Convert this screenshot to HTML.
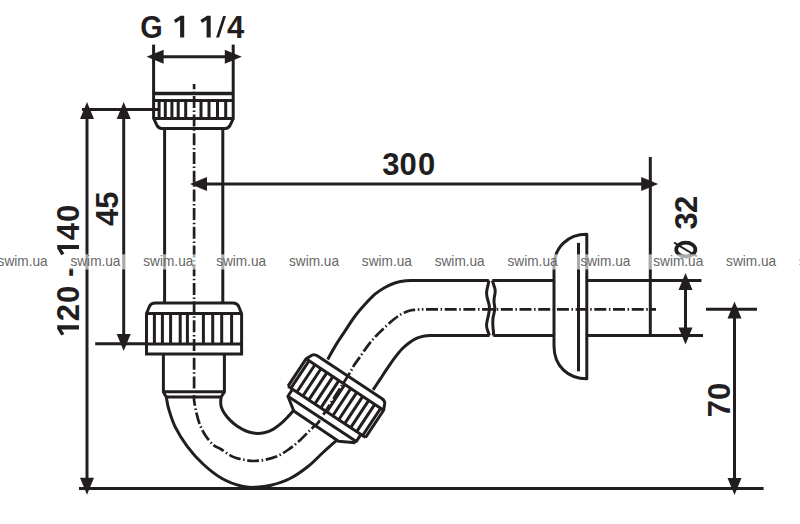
<!DOCTYPE html>
<html><head><meta charset="utf-8"><style>
html,body{margin:0;padding:0;background:#fff;width:800px;height:524px;overflow:hidden}
svg{display:block}
</style></head><body>
<svg width="800" height="524" viewBox="0 0 800 524">
<rect width="800" height="524" fill="#fff"/>
<g>
<g fill="none" stroke="#221e1f" stroke-width="3.0" stroke-linecap="butt" stroke-linejoin="round">
<!-- G dimension -->
<line x1="153.6" y1="44.6" x2="153.6" y2="119" />
<line x1="233.2" y1="44.6" x2="233.2" y2="119" />
<line x1="160" y1="56.8" x2="228" y2="56.8" />
<!-- upper nut -->
<line x1="153.6" y1="93.5" x2="233.2" y2="93.5" stroke-width="3.5"/>
<line x1="153.6" y1="100.5" x2="233.2" y2="100.5"/>
<line x1="153.6" y1="118.4" x2="233.2" y2="118.4"/>
<path d="M159.1,100.5V118.4M165.3,100.5V118.4M171.9,100.5V118.4M178.2,100.5V118.4M185.7,100.5V118.4M201,100.5V118.4M209,100.5V118.4M217.5,100.5V118.4M225.7,100.5V118.4"/>
<path d="M153.6,118.4 L157.2,125.8 Q158.6,128.4 161.5,128.4 H225.5 Q228.4,128.4 229.8,125.8 L233.4,118.4"/>
<!-- upper pipe -->
<line x1="164.6" y1="128.4" x2="164.6" y2="302.9"/>
<line x1="222.8" y1="128.4" x2="222.8" y2="302.9"/>
<!-- middle nut -->
<path d="M146.5,344 V313.6 L149.6,306 Q151.1,302.9 155.5,302.9 L232.6,302.9 Q237,302.9 238.5,306 L241.6,313.6 V344"/>
<line x1="146.5" y1="313.4" x2="241.6" y2="313.4"/>
<line x1="146.5" y1="344" x2="241.6" y2="344"/>
<path d="M146.5,344 V353.9 H241.6 V344" stroke-linejoin="miter"/>
<path d="M154.4,313.4V344M162.4,313.4V344M170.6,313.4V344M180.2,313.4V344M187.4,313.4V344M203.4,313.4V344M212.7,313.4V344M221.7,313.4V344M231.6,313.4V344"/>
<!-- lower pipe segment -->
<path d="M163.4,353.9 V392 L166.35,397.2 M224.4,353.9 V392 L221.25,396.75"/>
<line x1="163.4" y1="391.7" x2="224.4" y2="391.7"/>
<line x1="166.35" y1="397" x2="221.25" y2="397"/>
<!-- U bend -->
<path d="M166.35,397.20 C166.76,399.22 167.31,404.30 168.80,409.30 C170.29,414.30 172.20,420.98 175.30,427.20 C178.40,433.42 182.78,440.47 187.40,446.60 C192.02,452.73 197.23,458.68 203.00,464.00 C208.77,469.32 215.50,474.78 222.00,478.50 C228.50,482.22 236.33,484.83 242.00,486.30 C247.67,487.77 251.17,487.47 256.00,487.30 C260.83,487.13 265.33,486.77 271.00,485.30 C276.67,483.83 283.83,481.63 290.00,478.50 C296.17,475.37 302.50,470.83 308.00,466.50 C313.50,462.17 318.23,456.87 323.00,452.50 C327.77,448.13 334.33,442.33 336.60,440.30"/>
<path d="M221.25,396.75 C221.16,397.50 220.70,399.56 220.70,401.25 C220.70,402.94 220.60,404.84 221.25,406.90 C221.90,408.96 223.10,411.35 224.60,413.60 C226.10,415.85 228.18,418.33 230.25,420.40 C232.32,422.47 234.38,424.23 237.00,426.00 C239.62,427.77 243.00,429.78 246.00,431.00 C249.00,432.22 252.00,433.01 255.00,433.30 C258.00,433.59 261.00,433.40 264.00,432.75 C267.00,432.10 270.00,431.09 273.00,429.40 C276.00,427.71 279.38,424.85 282.00,422.60 C284.62,420.35 286.88,417.87 288.75,415.90 C290.62,413.93 292.50,411.65 293.25,410.80"/>
<!-- pipe angled to horizontal -->
<path d="M327.70,359.40 C329.00,357.10 332.70,350.20 335.50,345.60 C338.30,341.00 341.35,336.57 344.50,331.80 C347.65,327.03 351.02,321.53 354.40,317.00 C357.78,312.47 361.37,308.40 364.80,304.60 C368.23,300.80 371.58,297.10 375.00,294.20 C378.42,291.30 381.87,289.10 385.30,287.20 C388.73,285.30 392.17,283.88 395.60,282.80 C399.03,281.72 402.50,281.08 405.90,280.70 C409.30,280.32 412.65,280.53 416.00,280.50 C419.35,280.47 424.33,280.50 426.00,280.50 H488.8"/>
<path d="M373.10,389.80 C374.23,388.10 377.53,383.17 379.90,379.60 C382.27,376.03 384.83,372.02 387.30,368.40 C389.77,364.78 392.22,361.17 394.70,357.90 C397.18,354.63 399.72,351.37 402.20,348.80 C404.68,346.23 407.13,344.27 409.60,342.50 C412.07,340.73 414.52,339.30 417.00,338.20 C419.48,337.10 422.00,336.33 424.50,335.90 C427.00,335.47 429.42,335.65 432.00,335.60 C434.58,335.55 438.67,335.60 440.00,335.60 H489.5"/>
<path d="M492.3,280.5 H554 M586.8,280.5 H701.5"/>
<path d="M493.3,335.6 H554 M586.8,335.6 H703"/>
<!-- break -->
<path d="M488.80,280.60 C488.70,281.23 488.48,283.00 488.20,284.40 C487.92,285.80 487.37,287.58 487.10,289.00 C486.83,290.42 486.60,291.50 486.60,292.90 C486.60,294.30 486.80,295.88 487.10,297.40 C487.40,298.92 488.03,300.57 488.40,302.00 C488.77,303.43 489.15,304.75 489.30,306.00 C489.45,307.25 489.37,308.37 489.30,309.50 C489.23,310.63 489.15,311.38 488.90,312.80 C488.65,314.22 488.17,316.27 487.80,318.00 C487.43,319.73 486.88,321.68 486.70,323.20 C486.52,324.72 486.52,325.80 486.70,327.10 C486.88,328.40 487.33,329.60 487.80,331.00 C488.27,332.40 489.22,334.75 489.50,335.50"/>
<path d="M492.30,280.60 C492.58,281.45 493.53,284.22 494.00,285.70 C494.47,287.18 494.92,288.30 495.10,289.50 C495.28,290.70 495.23,291.58 495.10,292.90 C494.97,294.22 494.48,295.88 494.30,297.40 C494.12,298.92 493.95,300.57 494.00,302.00 C494.05,303.43 494.47,304.83 494.60,306.00 C494.73,307.17 494.90,307.77 494.80,309.00 C494.70,310.23 494.30,311.90 494.00,313.40 C493.70,314.90 493.20,316.37 493.00,318.00 C492.80,319.63 492.80,321.58 492.80,323.20 C492.80,324.82 492.88,326.18 493.00,327.70 C493.12,329.22 493.45,331.00 493.50,332.30 C493.55,333.60 493.33,334.97 493.30,335.50"/>
<!-- rosette -->
<path d="M586.8,234.3 C568,234.3 554,247 554,267 V346 C554,366 568,378.8 586.8,378.8 Z"/>
<line x1="578.5" y1="242.9" x2="578.5" y2="371.3"/>
<!-- 300 dim -->
<line x1="650.3" y1="157" x2="650.3" y2="335.6"/>
<line x1="205" y1="184" x2="642" y2="184"/>
<!-- 120-140 and 45 dims -->
<line x1="82" y1="109.4" x2="160" y2="109.4"/>
<line x1="87" y1="115" x2="87" y2="480"/>
<line x1="123.7" y1="115" x2="123.7" y2="336"/>
<line x1="95.2" y1="343.8" x2="146.5" y2="343.8"/>
<line x1="79" y1="488.4" x2="763.6" y2="488.4"/>
<!-- Ø32 dim -->
<line x1="685.5" y1="285" x2="685.5" y2="330"/>
<!-- 70 dim -->
<line x1="706" y1="309.2" x2="757" y2="309.2"/>
<line x1="734.5" y1="315" x2="734.5" y2="480"/>
</g>
<g fill="none" stroke="#221e1f" stroke-width="3.0" stroke-linejoin="round">
<g transform="translate(349.7,377.2) rotate(33.5)">
<path d="M-46.5,8.8 C-45.5,3 -44.0,0 -40.0,0 L40.0,0 C44.0,0 45.5,3 46.5,8.8 V41.5 H41 V50 L41,51.5 L26,59.5 L-28,59 L-41,50 V41.5 H-46.5 Z" fill="#fff" stroke="none"/>
<path d="M-46.5,41.5 V8.8 L-43.7,2.6 Q-42.3,0 -38.5,0 L38.5,0 Q42.3,0 43.7,2.6 L46.5,8.8 V41.5"/>
<line x1="-46.5" y1="8.8" x2="46.5" y2="8.8"/>
<line x1="-46.5" y1="41.5" x2="46.5" y2="41.5"/>
<path d="M-41,41.5 V50 H41 V41.5"/>
<path d="M-41,50 L-28,59 L26,59.5 L41,51.5"/>
<path d="M-43.0,8.8V41.5M-35.83,8.8V41.5M-28.67,8.8V41.5M-21.5,8.8V41.5M-14.33,8.8V41.5M-7.17,8.8V41.5M0.0,8.8V41.5M7.17,8.8V41.5M14.33,8.8V41.5M21.5,8.8V41.5M28.67,8.8V41.5M35.83,8.8V41.5M43.0,8.8V41.5"/>
</g>
</g>
<!-- center lines -->
<g fill="none" stroke="#221e1f" stroke-width="2.7" stroke-dasharray="12 2.6 1.5 2.6">
<path d="M194.1,84 V397" stroke-dashoffset="6.8"/>
<path d="M194.1,397 C194.12,397.70 193.82,398.60 194.20,401.20 C194.57,403.80 195.45,408.82 196.35,412.60 C197.25,416.38 198.11,420.12 199.60,423.90 C201.09,427.68 203.00,431.78 205.30,435.30 C207.60,438.82 210.77,442.68 213.40,445.00 C216.03,447.32 217.92,447.32 221.10,449.25 C224.28,451.18 228.70,454.84 232.50,456.60 C236.30,458.36 240.38,459.07 243.90,459.80 C247.42,460.53 250.08,461.00 253.60,461.00 C257.12,461.00 261.20,460.53 265.00,459.80 C268.80,459.07 272.61,458.23 276.40,456.60 C280.19,454.97 283.97,452.58 287.75,450.00 C291.53,447.42 295.31,444.48 299.10,441.10 C302.89,437.73 307.52,432.60 310.50,429.75 C313.48,426.90 315.42,425.62 317.00,424.00 C318.58,422.38 319.50,420.67 320.00,420.00 C324.80,412.42 343.10,383.67 348.80,374.50 C354.50,365.33 352.28,368.00 354.20,365.00 C356.12,362.00 358.27,359.40 360.30,356.50 C362.33,353.60 364.37,350.38 366.40,347.60 C368.43,344.82 370.47,342.17 372.50,339.80 C374.53,337.43 376.30,335.70 378.60,333.40 C380.90,331.10 383.75,328.35 386.30,326.00 C388.85,323.65 391.37,321.30 393.90,319.30 C396.43,317.30 398.95,315.42 401.50,314.00 C404.05,312.58 406.95,311.50 409.20,310.80 C411.45,310.10 413.03,310.03 415.00,309.80 C416.97,309.57 420.00,309.47 421.00,309.40" stroke-dashoffset="3"/>
<path d="M421,309.4 H656" stroke-dashoffset="13.70"/>
</g>
<!-- arrowheads -->
<g fill="#221e1f">
<polygon points="146.60,56.80 163.60,49.80 163.60,63.80"/>
<polygon points="241.80,56.80 224.80,49.80 224.80,63.80"/>
<polygon points="190.00,184.00 207.00,177.00 207.00,191.00"/>
<polygon points="658.20,184.00 641.20,177.00 641.20,191.00"/>
<polygon points="87.00,102.00 80.00,119.00 94.00,119.00"/>
<polygon points="123.70,102.00 116.70,119.00 130.70,119.00"/>
<polygon points="123.70,350.90 116.70,333.90 130.70,333.90"/>
<polygon points="87.00,494.70 80.00,477.70 94.00,477.70"/>
<polygon points="685.50,272.90 678.50,289.90 692.50,289.90"/>
<polygon points="685.50,344.40 678.50,327.40 692.50,327.40"/>
<polygon points="734.50,301.60 727.50,318.60 741.50,318.60"/>
<polygon points="734.50,494.90 727.50,477.90 741.50,477.90"/>
</g>
<!-- text -->
<g fill="#221e1f" font-family="Liberation Sans, sans-serif" font-weight="bold" font-size="31" text-anchor="middle">
<text x="151.5" y="38.3" transform="translate(151.5,0) scale(0.93,1) translate(-151.5,0)">G</text>
<path transform="translate(184.2,37.6)" d="M0,-21.8 V0 H-4.1 V-17.6 L-8.6,-14.6 L-10.3,-17.6 L-3.6,-21.8 Z"/>
<path transform="translate(210.7,37.6)" d="M0,-21.8 V0 H-4.1 V-17.6 L-8.6,-14.6 L-10.3,-17.6 L-3.6,-21.8 Z"/>
<polygon points="216.1,37.6 219.1,37.6 226,16 223.1,16"/>
<text x="235.6" y="38.3">4</text>
<text x="390.75" y="175">3</text>
<text x="408" y="175">0</text>
<text x="426.5" y="175">0</text>
<text transform="translate(118.3,200.1) rotate(-90)">5</text>
<text transform="translate(118.3,217.4) rotate(-90)">4</text>
<path transform="translate(79,325.3) rotate(-90)" d="M0,-21.8 V0 H-4.1 V-17.6 L-8.6,-14.6 L-10.3,-17.6 L-3.6,-21.8 Z"/>
<text transform="translate(79,312.65) rotate(-90)">2</text>
<text transform="translate(79,294.4) rotate(-90)">0</text>
<text transform="translate(79,271.8) rotate(-90)">-</text>
<path transform="translate(79,245) rotate(-90)" d="M0,-21.8 V0 H-4.1 V-17.6 L-8.6,-14.6 L-10.3,-17.6 L-3.6,-21.8 Z"/>
<text transform="translate(79,231.7) rotate(-90)">4</text>
<text transform="translate(79,213.35) rotate(-90)">0</text>
<text transform="translate(697,220.85) rotate(-90)">3</text>
<text transform="translate(697,204.45) rotate(-90)">2</text>
<text transform="translate(729.6,408.6) rotate(-90)">7</text>
<text transform="translate(729.6,391.45) rotate(-90)">0</text>
</g>
<!-- Ø symbol -->
<g fill="none" stroke="#221e1f">
<ellipse cx="685.8" cy="249.6" rx="9.6" ry="7.0" stroke-width="3.7"/>
<line x1="674" y1="242.5" x2="697" y2="256.5" stroke-width="2"/>
</g>
<!-- watermarks -->
<g font-family="Liberation Sans, sans-serif" font-size="15" fill="#666">
<rect x="-6.90" y="254.3" width="59.5" height="15.2" fill="#fff" fill-opacity="0.62"/>
<text x="-2.40" y="265.6" textLength="50" lengthAdjust="spacingAndGlyphs">swim.ua</text>
<rect x="65.95" y="254.3" width="59.5" height="15.2" fill="#fff" fill-opacity="0.62"/>
<text x="70.45" y="265.6" textLength="50" lengthAdjust="spacingAndGlyphs">swim.ua</text>
<rect x="138.80" y="254.3" width="59.5" height="15.2" fill="#fff" fill-opacity="0.62"/>
<text x="143.30" y="265.6" textLength="50" lengthAdjust="spacingAndGlyphs">swim.ua</text>
<rect x="211.65" y="254.3" width="59.5" height="15.2" fill="#fff" fill-opacity="0.62"/>
<text x="216.15" y="265.6" textLength="50" lengthAdjust="spacingAndGlyphs">swim.ua</text>
<rect x="284.50" y="254.3" width="59.5" height="15.2" fill="#fff" fill-opacity="0.62"/>
<text x="289.00" y="265.6" textLength="50" lengthAdjust="spacingAndGlyphs">swim.ua</text>
<rect x="357.35" y="254.3" width="59.5" height="15.2" fill="#fff" fill-opacity="0.62"/>
<text x="361.85" y="265.6" textLength="50" lengthAdjust="spacingAndGlyphs">swim.ua</text>
<rect x="430.20" y="254.3" width="59.5" height="15.2" fill="#fff" fill-opacity="0.62"/>
<text x="434.70" y="265.6" textLength="50" lengthAdjust="spacingAndGlyphs">swim.ua</text>
<rect x="503.05" y="254.3" width="59.5" height="15.2" fill="#fff" fill-opacity="0.62"/>
<text x="507.55" y="265.6" textLength="50" lengthAdjust="spacingAndGlyphs">swim.ua</text>
<rect x="575.90" y="254.3" width="59.5" height="15.2" fill="#fff" fill-opacity="0.62"/>
<text x="580.40" y="265.6" textLength="50" lengthAdjust="spacingAndGlyphs">swim.ua</text>
<rect x="648.75" y="254.3" width="59.5" height="15.2" fill="#fff" fill-opacity="0.62"/>
<text x="653.25" y="265.6" textLength="50" lengthAdjust="spacingAndGlyphs">swim.ua</text>
<rect x="721.60" y="254.3" width="59.5" height="15.2" fill="#fff" fill-opacity="0.62"/>
<text x="726.10" y="265.6" textLength="50" lengthAdjust="spacingAndGlyphs">swim.ua</text>
<rect x="794.45" y="254.3" width="59.5" height="15.2" fill="#fff" fill-opacity="0.62"/>
<text x="798.95" y="265.6" textLength="50" lengthAdjust="spacingAndGlyphs">swim.ua</text>
</g>
</g>
</svg>
</body></html>
